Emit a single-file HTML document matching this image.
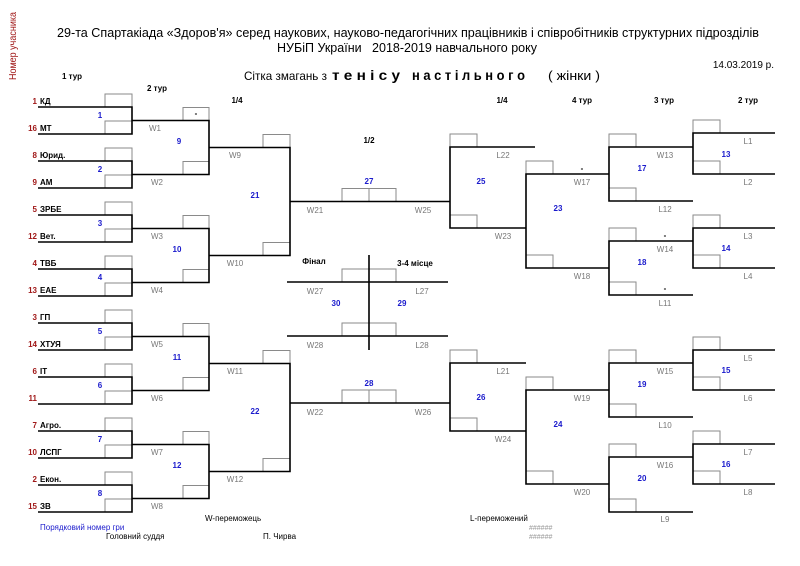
<!DOCTYPE html>
<html><head><meta charset="utf-8"><style>
html,body{margin:0;padding:0;background:#fff;}
svg{display:block;font-family:"Liberation Sans",Arial,sans-serif;}
.k{stroke:#000;stroke-width:1.6;fill:none;}
.g{stroke:#8a8a8a;stroke-width:1;fill:none;}
.n{font-size:8px;font-weight:bold;fill:#000;}
.s{font-size:8px;font-weight:bold;fill:#a01818;text-anchor:end;}
.b{font-size:8px;font-weight:bold;fill:#1a1acc;text-anchor:middle;}
.l{font-size:8px;fill:#777;text-anchor:middle;}
.h{font-size:8px;font-weight:bold;fill:#000;text-anchor:middle;}
</style></head><body>
<svg width="800" height="566" viewBox="0 0 800 566" xmlns="http://www.w3.org/2000/svg">
<!-- header -->
<text x="16" y="80" transform="rotate(-90 16 80)" font-size="10" fill="#a01818" textLength="68" lengthAdjust="spacingAndGlyphs" x2="0">Номер учасника</text>
<text x="57" y="37" font-size="13" textLength="702" lengthAdjust="spacingAndGlyphs">29-та Спартакіада «Здоров'я» серед наукових, науково-педагогічних працівників і співробітників структурних підрозділів</text>
<text x="277" y="52" font-size="13" textLength="260" lengthAdjust="spacingAndGlyphs" xml:space="preserve">НУБіП України   2018-2019 навчального року</text>
<text x="774" y="68" font-size="10" text-anchor="end">14.03.2019 р.</text>
<text x="244" y="80" font-size="12" textLength="83" lengthAdjust="spacingAndGlyphs">Сітка змагань з</text>
<text x="332" y="80" font-size="14" font-weight="bold" textLength="68" lengthAdjust="spacingAndGlyphs">т е н і с у</text>
<text x="412" y="80" font-size="14" font-weight="bold" textLength="113" lengthAdjust="spacingAndGlyphs">н а с т і л ь н о г о</text>
<text x="548" y="80" font-size="13" textLength="52" lengthAdjust="spacingAndGlyphs">( жінки )</text>
<text x="72" y="79" class="h">1 тур</text>
<text x="157" y="91" class="h">2 тур</text>
<text x="237" y="103" class="h">1/4</text>
<text x="369" y="143" class="h">1/2</text>
<text x="502" y="103" class="h">1/4</text>
<text x="582" y="103" class="h">4 тур</text>
<text x="664" y="103" class="h">3 тур</text>
<text x="748" y="103" class="h">2 тур</text>

<!-- names -->
<g>
<text x="37" y="104" class="s">1</text><text x="40" y="104" class="n">КД</text>
<text x="37" y="131" class="s">16</text><text x="40" y="131" class="n">МТ</text>
<text x="37" y="158" class="s">8</text><text x="40" y="158" class="n">Юрид.</text>
<text x="37" y="185" class="s">9</text><text x="40" y="185" class="n">АМ</text>
<text x="37" y="212" class="s">5</text><text x="40" y="212" class="n">ЗРБЕ</text>
<text x="37" y="239" class="s">12</text><text x="40" y="239" class="n">Вет.</text>
<text x="37" y="266" class="s">4</text><text x="40" y="266" class="n">ТВБ</text>
<text x="37" y="293" class="s">13</text><text x="40" y="293" class="n">ЕАЕ</text>
<text x="37" y="320" class="s">3</text><text x="40" y="320" class="n">ГП</text>
<text x="37" y="347" class="s">14</text><text x="40" y="347" class="n">ХТУЯ</text>
<text x="37" y="374" class="s">6</text><text x="40" y="374" class="n">ІТ</text>
<text x="37" y="401" class="s">11</text>
<text x="37" y="428" class="s">7</text><text x="40" y="428" class="n">Агро.</text>
<text x="37" y="455" class="s">10</text><text x="40" y="455" class="n">ЛСПГ</text>
<text x="37" y="482" class="s">2</text><text x="40" y="482" class="n">Екон.</text>
<text x="37" y="509" class="s">15</text><text x="40" y="509" class="n">ЗВ</text>
</g>

<!-- gray boxes -->
<g class="g">
<!-- R1 left -->
<rect x="105" y="94" width="27" height="13"/><rect x="105" y="121" width="27" height="13"/>
<rect x="105" y="148" width="27" height="13"/><rect x="105" y="175" width="27" height="13"/>
<rect x="105" y="202" width="27" height="13"/><rect x="105" y="229" width="27" height="13"/>
<rect x="105" y="256" width="27" height="13"/><rect x="105" y="283" width="27" height="13"/>
<rect x="105" y="310" width="27" height="13"/><rect x="105" y="337" width="27" height="13"/>
<rect x="105" y="364" width="27" height="13"/><rect x="105" y="391" width="27" height="13"/>
<rect x="105" y="418" width="27" height="13"/><rect x="105" y="445" width="27" height="13"/>
<rect x="105" y="472" width="27" height="13"/><rect x="105" y="499" width="27" height="13"/>
<!-- R2 left -->
<rect x="183" y="107.5" width="26" height="13"/><rect x="183" y="161.5" width="26" height="13"/>
<rect x="183" y="215.5" width="26" height="13"/><rect x="183" y="269.5" width="26" height="13"/>
<rect x="183" y="323.5" width="26" height="13"/><rect x="183" y="377.5" width="26" height="13"/>
<rect x="183" y="431.5" width="26" height="13"/><rect x="183" y="485.5" width="26" height="13"/>
<!-- R3 left -->
<rect x="263" y="134.5" width="27" height="13"/><rect x="263" y="242.5" width="27" height="13"/>
<rect x="263" y="350.5" width="27" height="13"/><rect x="263" y="458.5" width="27" height="13"/>
<!-- center -->
<rect x="342" y="188.5" width="27" height="13"/><rect x="369" y="188.5" width="27" height="13"/>
<rect x="342" y="390" width="27" height="13"/><rect x="369" y="390" width="27" height="13"/>
<rect x="342" y="269" width="27" height="13"/><rect x="369" y="269" width="27" height="13"/>
<rect x="342" y="323" width="27" height="13"/><rect x="369" y="323" width="27" height="13"/>
<!-- right 1/4 -->
<rect x="450" y="134" width="27" height="13"/><rect x="450" y="215" width="27" height="13"/>
<rect x="450" y="350" width="27" height="13"/><rect x="450" y="418" width="27" height="13"/>
<!-- 4 tur -->
<rect x="526" y="161" width="27" height="13"/><rect x="526" y="255" width="27" height="13"/>
<rect x="526" y="377" width="27" height="13"/><rect x="526" y="471" width="27" height="13"/>
<!-- 3 tur -->
<rect x="609" y="134" width="27" height="13"/><rect x="609" y="188" width="27" height="13"/>
<rect x="609" y="228" width="27" height="13"/><rect x="609" y="282" width="27" height="13"/>
<rect x="609" y="350" width="27" height="13"/><rect x="609" y="404" width="27" height="13"/>
<rect x="609" y="444" width="27" height="13"/><rect x="609" y="499" width="27" height="13"/>
<!-- 2 tur -->
<rect x="693" y="120" width="27" height="13"/><rect x="693" y="161" width="27" height="13"/>
<rect x="693" y="215" width="27" height="13"/><rect x="693" y="255" width="27" height="13"/>
<rect x="693" y="337" width="27" height="13"/><rect x="693" y="377" width="27" height="13"/>
<rect x="693" y="431" width="27" height="13"/><rect x="693" y="471" width="27" height="13"/>
</g>

<!-- black lines -->
<path class="k" d="
M38 107H132V134H38 M38 161H132V188H38 M38 215H132V242H38 M38 269H132V296H38
M38 323H132V350H38 M38 377H132V404H38 M38 431H132V458H38 M38 485H132V512H38
M132 120.5H209V174.5H132 M132 228.5H209V282.5H132 M132 336.5H209V390.5H132 M132 444.5H209V498.5H132
M209 147.5H290V255.5H209 M209 363.5H290V471.5H209
M290 201.5H450 M290 403H450
M287 282H448 M287 336H448 M369 255V350
M535 147H450V228H526 M526 363H450V431H526
M609 174H526V268H609 M609 390H526V484H609
M693 147H609V201H693 M693 241H609V295H693 M693 363H609V417H693 M693 457H609V512H693
M775 133H693V174H775 M775 228H693V268H775 M775 350H693V390H775 M775 444H693V484H775
"/>

<!-- match numbers -->
<g>
<text x="100" y="118" class="b">1</text><text x="100" y="172" class="b">2</text>
<text x="100" y="226" class="b">3</text><text x="100" y="280" class="b">4</text>
<text x="100" y="334" class="b">5</text><text x="100" y="388" class="b">6</text>
<text x="100" y="442" class="b">7</text><text x="100" y="496" class="b">8</text>
<text x="179" y="144" class="b">9</text><text x="177" y="252" class="b">10</text>
<text x="177" y="360" class="b">11</text><text x="177" y="468" class="b">12</text>
<text x="255" y="198" class="b">21</text><text x="255" y="414" class="b">22</text>
<text x="369" y="184" class="b">27</text><text x="369" y="386" class="b">28</text>
<text x="336" y="306" class="b">30</text><text x="402" y="306" class="b">29</text>
<text x="481" y="184" class="b">25</text><text x="481" y="400" class="b">26</text>
<text x="558" y="211" class="b">23</text><text x="558" y="427" class="b">24</text>
<text x="642" y="171" class="b">17</text><text x="642" y="265" class="b">18</text>
<text x="642" y="387" class="b">19</text><text x="642" y="481" class="b">20</text>
<text x="726" y="157" class="b">13</text><text x="726" y="251" class="b">14</text>
<text x="726" y="373" class="b">15</text><text x="726" y="467" class="b">16</text>
</g>

<!-- W/L labels -->
<g>
<text x="155" y="131" class="l">W1</text><text x="157" y="185" class="l">W2</text>
<text x="157" y="239" class="l">W3</text><text x="157" y="293" class="l">W4</text>
<text x="157" y="347" class="l">W5</text><text x="157" y="401" class="l">W6</text>
<text x="157" y="455" class="l">W7</text><text x="157" y="509" class="l">W8</text>
<text x="235" y="158" class="l">W9</text><text x="235" y="266" class="l">W10</text>
<text x="235" y="374" class="l">W11</text><text x="235" y="482" class="l">W12</text>
<text x="315" y="213" class="l">W21</text><text x="423" y="213" class="l">W25</text>
<text x="315" y="415" class="l">W22</text><text x="423" y="415" class="l">W26</text>
<text x="315" y="294" class="l">W27</text><text x="422" y="294" class="l">L27</text>
<text x="315" y="348" class="l">W28</text><text x="422" y="348" class="l">L28</text>
<text x="503" y="158" class="l">L22</text><text x="503" y="239" class="l">W23</text>
<text x="503" y="374" class="l">L21</text><text x="503" y="442" class="l">W24</text>
<text x="582" y="185" class="l">W17</text><text x="582" y="279" class="l">W18</text>
<text x="582" y="401" class="l">W19</text><text x="582" y="495" class="l">W20</text>
<text x="665" y="158" class="l">W13</text><text x="665" y="212" class="l">L12</text>
<text x="665" y="252" class="l">W14</text><text x="665" y="306" class="l">L11</text>
<text x="665" y="374" class="l">W15</text><text x="665" y="428" class="l">L10</text>
<text x="665" y="468" class="l">W16</text><text x="665" y="522" class="l">L9</text>
<text x="748" y="144" class="l">L1</text><text x="748" y="185" class="l">L2</text>
<text x="748" y="239" class="l">L3</text><text x="748" y="279" class="l">L4</text>
<text x="748" y="361" class="l">L5</text><text x="748" y="401" class="l">L6</text>
<text x="748" y="455" class="l">L7</text><text x="748" y="495" class="l">L8</text>
</g>
<g class="h">
<text x="196" y="116">-</text><text x="582" y="171">-</text>
<text x="665" y="238">-</text><text x="665" y="291">-</text>
<text x="314" y="264">Фінал</text><text x="415" y="266">3-4 місце</text>
</g>

<!-- footer -->
<text x="40" y="530" font-size="8" fill="#1a1acc">Порядковий номер гри</text>
<text x="205" y="521" font-size="8">W-переможець</text>
<text x="470" y="521" font-size="8">L-переможений</text>
<text x="529" y="530" font-size="7" fill="#999">######</text>
<text x="529" y="539" font-size="7" fill="#999">######</text>
<text x="106" y="539" font-size="8">Головний суддя</text>
<text x="263" y="539" font-size="8">П. Чирва</text>
</svg>
</body></html>
